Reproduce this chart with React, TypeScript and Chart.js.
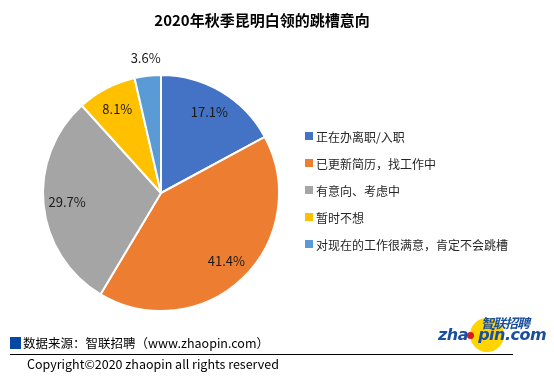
import React, { useEffect, useRef } from "react";
import { Chart, registerables } from "chart.js";

Chart.register(...registerables);

const title = "2020年秋季昆明白领的跳槽意向";
const categories = [
  "正在办离职/入职",
  "已更新简历，找工作中",
  "有意向、考虑中",
  "暂时不想",
  "对现在的工作很满意，肯定不会跳槽",
];
const values = [17.1, 41.4, 29.7, 8.1, 3.6];
const colors = ["#4472C4", "#ED7D31", "#A5A5A5", "#FFC000", "#5B9BD5"];
const sourceText = "数据来源：智联招聘（www.zhaopin.com）";
const copyrightText = "Copyright©2020 zhaopin all rights reserved";

const FONT = '"Noto Sans CJK SC", "Noto Sans", sans-serif';

const labelPlugin = {
  id: "pieLabels",
  afterDatasetsDraw(chart: any) {
    const ctx = chart.ctx;
    const meta = chart.getDatasetMeta(0);
    const data = chart.data.datasets[0].data as number[];
    ctx.save();
    ctx.font = `13px ${FONT}`;
    ctx.fillStyle = "#1a1a1a";
    ctx.textAlign = "center";
    ctx.textBaseline = "middle";
    meta.data.forEach((arc: any, i: number) => {
      const p = arc.getProps(["x", "y", "startAngle", "endAngle", "outerRadius"], true);
      const mid = (p.startAngle + p.endAngle) / 2;
      const small = data[i] < 5;
      const r = small ? p.outerRadius + 18 : p.outerRadius * 0.8;
      const x = p.x + Math.cos(mid) * r;
      const y = p.y + Math.sin(mid) * r;
      ctx.fillText(data[i].toFixed(1) + "%", x, y);
    });
    ctx.restore();
  },
};

export default function App() {
  const canvasRef = useRef<HTMLCanvasElement | null>(null);

  useEffect(() => {
    if (!canvasRef.current) return;
    const chart = new Chart(canvasRef.current, {
      type: "pie",
      data: {
        labels: categories,
        datasets: [
          {
            data: values,
            backgroundColor: colors,
            borderColor: "#ffffff",
            borderWidth: 2,
          },
        ],
      },
      options: {
        responsive: true,
        maintainAspectRatio: false,
        animation: false,
        events: [],
        layout: { padding: { left: 42, top: 74, right: 274, bottom: 71 } },
        plugins: {
          legend: { display: false },
          tooltip: { enabled: false },
          title: { display: false },
        },
      },
      plugins: [labelPlugin],
    });
    return () => chart.destroy();
  }, []);

  return (
    <div
      style={{
        position: "fixed",
        left: 0,
        top: 0,
        width: 554,
        height: 383,
        background: "#ffffff",
        fontFamily: FONT,
        overflow: "hidden",
      }}
    >
      <div style={{ position: "absolute", left: 0, top: 0, width: 554, height: 383 }}>
        <canvas ref={canvasRef} />
      </div>
      <div
        style={{
          position: "absolute",
          left: 0,
          width: 524,
          top: 9,
          textAlign: "center",
          fontSize: 15,
          fontWeight: 700,
          color: "#000",
          lineHeight: "22px",
        }}
      >
        {title}
      </div>
      {categories.map((c, i) => (
        <div
          key={c}
          style={{
            position: "absolute",
            left: 305,
            top: 136 + i * 27 - 9,
            height: 18,
            display: "flex",
            alignItems: "center",
            fontSize: 12,
            color: "#262626",
            whiteSpace: "nowrap",
          }}
        >
          <span
            style={{
              display: "inline-block",
              width: 8,
              height: 8,
              background: colors[i],
              marginRight: 3,
            }}
          />
          {c}
        </div>
      ))}
      <div
        style={{
          position: "absolute",
          left: 10,
          top: 337,
          width: 11,
          height: 12,
          background: "#0747A6",
        }}
      />
      <div
        style={{
          position: "absolute",
          left: 23,
          top: 334,
          fontSize: 12.5,
          lineHeight: "18px",
          color: "#000",
          whiteSpace: "nowrap",
        }}
      >
        {sourceText}
      </div>
      <div
        style={{
          position: "absolute",
          left: 10,
          top: 354,
          width: 503,
          height: 1,
          background: "#000",
        }}
      />
      <div
        style={{
          position: "absolute",
          left: 27,
          top: 355,
          fontSize: 12.5,
          lineHeight: "18px",
          color: "#000",
          whiteSpace: "nowrap",
        }}
      >
        {copyrightText}
      </div>
      {/* logo */}
      <div
        style={{
          position: "absolute",
          left: 470,
          top: 318,
          width: 34,
          height: 34,
          borderRadius: "50%",
          background: "#FFD400",
        }}
      />
      <div
        style={{
          position: "absolute",
          left: 467,
          top: 332,
          width: 7,
          height: 7,
          borderRadius: "50%",
          background: "#D71920",
        }}
      />
      <div
        style={{
          position: "absolute",
          left: 438,
          top: 326,
          fontSize: 16,
          fontWeight: 700,
          fontStyle: "italic",
          color: "#1A4FA0",
          fontFamily: '"DejaVu Sans", sans-serif',
          lineHeight: "18px",
          whiteSpace: "nowrap",
          letterSpacing: -0.5,
        }}
      >
        {"zha\u00a0\u00a0pin.com"}
      </div>
      <div
        style={{
          position: "absolute",
          left: 481,
          top: 315,
          fontSize: 13,
          fontWeight: 700,
          fontStyle: "italic",
          color: "#1A4FA0",
          lineHeight: "15px",
          whiteSpace: "nowrap",
          letterSpacing: -1,
        }}
      >
        智联招聘
      </div>
    </div>
  );
}
